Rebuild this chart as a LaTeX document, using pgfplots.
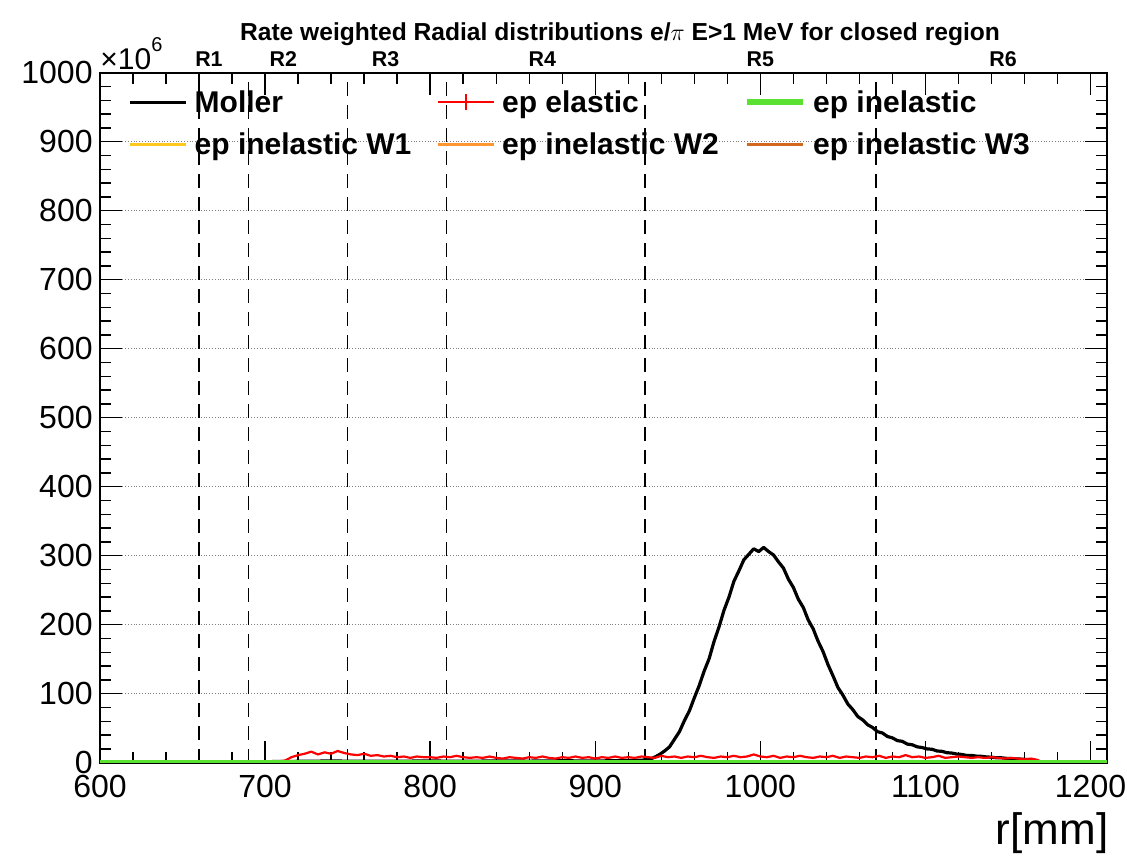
\documentclass[border=0pt]{standalone}
\usepackage{fontspec}
\setmainfont{Liberation Sans}
\usepackage{pgfplots}
\pgfplotsset{compat=1.18}
\definecolor{mgreen}{RGB}{90,225,50}
\definecolor{wone}{RGB}{255,200,30}
\definecolor{wtwo}{RGB}{255,150,50}
\definecolor{wthree}{RGB}{210,105,30}
\definecolor{mred}{RGB}{255,0,0}
\pgfplotsset{redlegend/.style={legend image code/.code={\draw[##1] (0pt,1pt) -- (28pt,1pt); \draw[mred, line width=0.8pt] (14pt,-3pt) -- (14pt,5pt);}}}
\begin{document}
\begin{tikzpicture}
\begin{axis}[
  scale only axis, width=503.5pt, height=345pt,
  xmin=600, xmax=1210, ymin=0, ymax=1000,
  xtick={600,700,...,1200}, ytick={0,100,...,1000},
  minor x tick num=4, minor y tick num=4,
  tick align=inside, xtick pos=both, ytick pos=both,
  major tick length=11pt, minor tick length=5.5pt,
  tick style={black, line width=0.7pt},
  axis line style={line width=1pt},
  ymajorgrids, major grid style={densely dotted, gray, line width=0.7pt},
  /pgf/number format/assume math mode=true,
  /pgf/number format/1000 sep={},
  scaled ticks=false,
  ticklabel style={font=\fontsize{16}{16}\selectfont},
  yticklabel style={inner sep=3.5pt},
  xticklabel style={inner sep=0pt, yshift=-6pt},
  clip mode=individual,
  legend columns=3,
  legend cell align=left,
  legend style={at={(0.0279,0.975)}, anchor=north west, draw=none, fill=none, inner sep=0pt,
    font=\fontsize{15}{15}\selectfont\bfseries, row sep=7pt,
    nodes={inner sep=0pt, text height=11pt, text depth=3pt},
    /tikz/every odd column/.append style={column sep=3.5pt},
    /tikz/every even column/.append style={column sep=6pt}},
  legend image code/.code={\draw[#1] (0pt,1pt) -- (28pt,1pt);},
]
% hidden W1-W3 (zero in this range)
\addplot[wone, line width=1.2pt, forget plot] coordinates {(600,0) (1210,0)};
\addplot[wtwo, line width=1.2pt, forget plot] coordinates {(600,0) (1210,0)};
\addplot[wthree, line width=1.2pt, forget plot] coordinates {(600,0) (1210,0)};
% region boundaries
\addplot[black, line width=0.8pt, dash pattern=on 7pt off 4.5pt, forget plot] coordinates {(660,0) (660,1000)};
\addplot[black, line width=0.8pt, dash pattern=on 7pt off 4.5pt, forget plot] coordinates {(690,0) (690,1000)};
\addplot[black, line width=0.8pt, dash pattern=on 7pt off 4.5pt, forget plot] coordinates {(750,0) (750,1000)};
\addplot[black, line width=0.8pt, dash pattern=on 7pt off 4.5pt, forget plot] coordinates {(810,0) (810,1000)};
\addplot[black, line width=0.8pt, dash pattern=on 7pt off 4.5pt, forget plot] coordinates {(930,0) (930,1000)};
\addplot[black, line width=0.8pt, dash pattern=on 7pt off 4.5pt, forget plot] coordinates {(1070,0) (1070,1000)};
% Moller
\addplot[black, line width=1.6pt, line join=round] coordinates {
(600,0)(657,0)(660,1.2)(672,0.8)(684,1.5)(696,1.2)(708,1.8)(720,2)(740,2.5)(760,2)(780,2.2)(800,2.5)(820,2)(840,2.6)(860,2.3)(880,2.8)(900,2.5)(915,3)(927,3.5)
(930,4)(933,5)(936,8)(939,12)(942,17)(945,23)(948,34)(951,45)(954,61)(957,75)(960,94)(963,112)(966,133)(969,151)(972,176)(975,197)(978,221)(981,240)(984,263)(987,278)(990,294)(993,302)(996,310)(999,306)(1002,312)(1005,306)(1008,301)(1011,291)(1014,282)(1017,266)(1020,254)(1023,237)(1026,225)(1029,207)(1032,194)(1035,176)(1038,161)(1041,142)(1044,126)(1047,109)(1050,98)(1053,85)(1056,77)(1059,67)(1062,62)(1065,55)(1068,51)(1071,45)(1074,43)(1077,38)(1080,36)(1083,32)(1086,31)(1089,27)(1092,26)(1095,23)(1098,22)(1101,20)(1104,19.5)(1107,17)(1110,16.5)(1113,14.5)(1116,14)(1119,12.5)(1122,12)(1125,10.5)(1128,10.5)(1131,9.5)(1134,9.2)(1137,8.3)(1140,8)(1143,7.2)(1146,7.1)(1149,6.3)(1152,6)(1155,5.5)(1158,5.2)(1161,4.6)(1164,4.3)(1167,3.2)(1169,0)(1210,0)};
\addlegendentry{\makebox[115pt][l]{Moller}}
% ep elastic
\addplot[mred, line width=1.1pt, redlegend] coordinates {
(600,0)(660,0)(664,1)(680,1.5)(696,2)(708,2)(712,3)(716,8)(720,11)(724,13)(728,16)(732,12)(736,15)(740,13)(744,17)(748,14)(752,12)(756,11)(760,13)(764,10)(768,11)(772,9)(776,10)(780,8)(784,9)(788,7)(792,9)(796,8)(800,8)(804,7)(808,9)(812,8)(816,10)(820,8)(824,7)(828,8)(832,7)(836,9)(840,7)(844,6)(848,8)(852,7)(856,6)(860,8)(864,7)(868,9)(872,7)(876,6)(880,8)(884,7)(888,9)(892,7)(896,8)(900,6)(904,8)(908,7)(912,9)(916,7)(920,8)(924,7)(928,9)(932,8)(936,7)(940,10)(944,8)(948,9)(952,7)(956,9)(960,8)(964,10)(968,8)(972,7)(976,9)(980,8)(984,10)(988,8)(992,9)(996,12)(1000,9)(1004,8)(1008,10)(1012,7)(1016,9)(1020,8)(1024,10)(1028,8)(1032,7)(1036,9)(1040,8)(1044,10)(1048,7)(1052,9)(1056,8)(1060,7)(1064,9)(1068,8)(1072,10)(1076,7)(1080,9)(1084,8)(1088,11)(1092,8)(1096,9)(1100,7)(1104,8)(1108,10)(1112,7)(1116,8)(1120,9)(1124,8)(1128,7)(1132,8)(1136,7)(1140,8)(1144,7)(1148,6)(1152,7)(1156,6)(1160,5)(1164,6)(1168,4)(1171,0)(1210,0)};
\addlegendentry{\makebox[115pt][l]{ep elastic}}
% ep inelastic
\addplot[mgreen, line width=3pt] coordinates {(600,0)(1210,0)};
\addlegendentry{\makebox[115pt][l]{ep inelastic}}
\addlegendimage{wone, line width=1.2pt}
\addlegendentry{\makebox[115pt][l]{ep inelastic W1}}
\addlegendimage{wtwo, line width=1.2pt}
\addlegendentry{\makebox[115pt][l]{ep inelastic W2}}
\addlegendimage{wthree, line width=1.2pt}
\addlegendentry{\makebox[115pt][l]{ep inelastic W3}}
% annotations
\node[font=\fontsize{12.3}{12.3}\selectfont\bfseries, anchor=center] at (axis cs:915,1056) {Rate weighted Radial distributions e/$\pi$ E>1 MeV for closed region};
\node[font=\fontsize{10.7}{10.7}\selectfont\bfseries] at (axis cs:666,1020) {R1};
\node[font=\fontsize{10.7}{10.7}\selectfont\bfseries] at (axis cs:711,1020) {R2};
\node[font=\fontsize{10.7}{10.7}\selectfont\bfseries] at (axis cs:773,1020) {R3};
\node[font=\fontsize{10.7}{10.7}\selectfont\bfseries] at (axis cs:868,1020) {R4};
\node[font=\fontsize{10.7}{10.7}\selectfont\bfseries] at (axis cs:1000,1020) {R5};
\node[font=\fontsize{10.7}{10.7}\selectfont\bfseries] at (axis cs:1147,1020) {R6};
\node[font=\fontsize{15}{15}\selectfont, anchor=base west, inner sep=0pt] at (axis cs:600,1004) {×10\raisebox{0.6em}{\fontsize{10}{10}\selectfont 6}};
\node[font=\fontsize{22}{22}\selectfont, anchor=base east, inner sep=0pt] at (axis cs:1211,-119) {r[mm]};
\end{axis}
\pgfresetboundingbox
\path[use as bounding box] (current axis.south west) ++(-50pt,-47.65pt) rectangle ++(563.5pt,429pt);
\end{tikzpicture}
\end{document}
